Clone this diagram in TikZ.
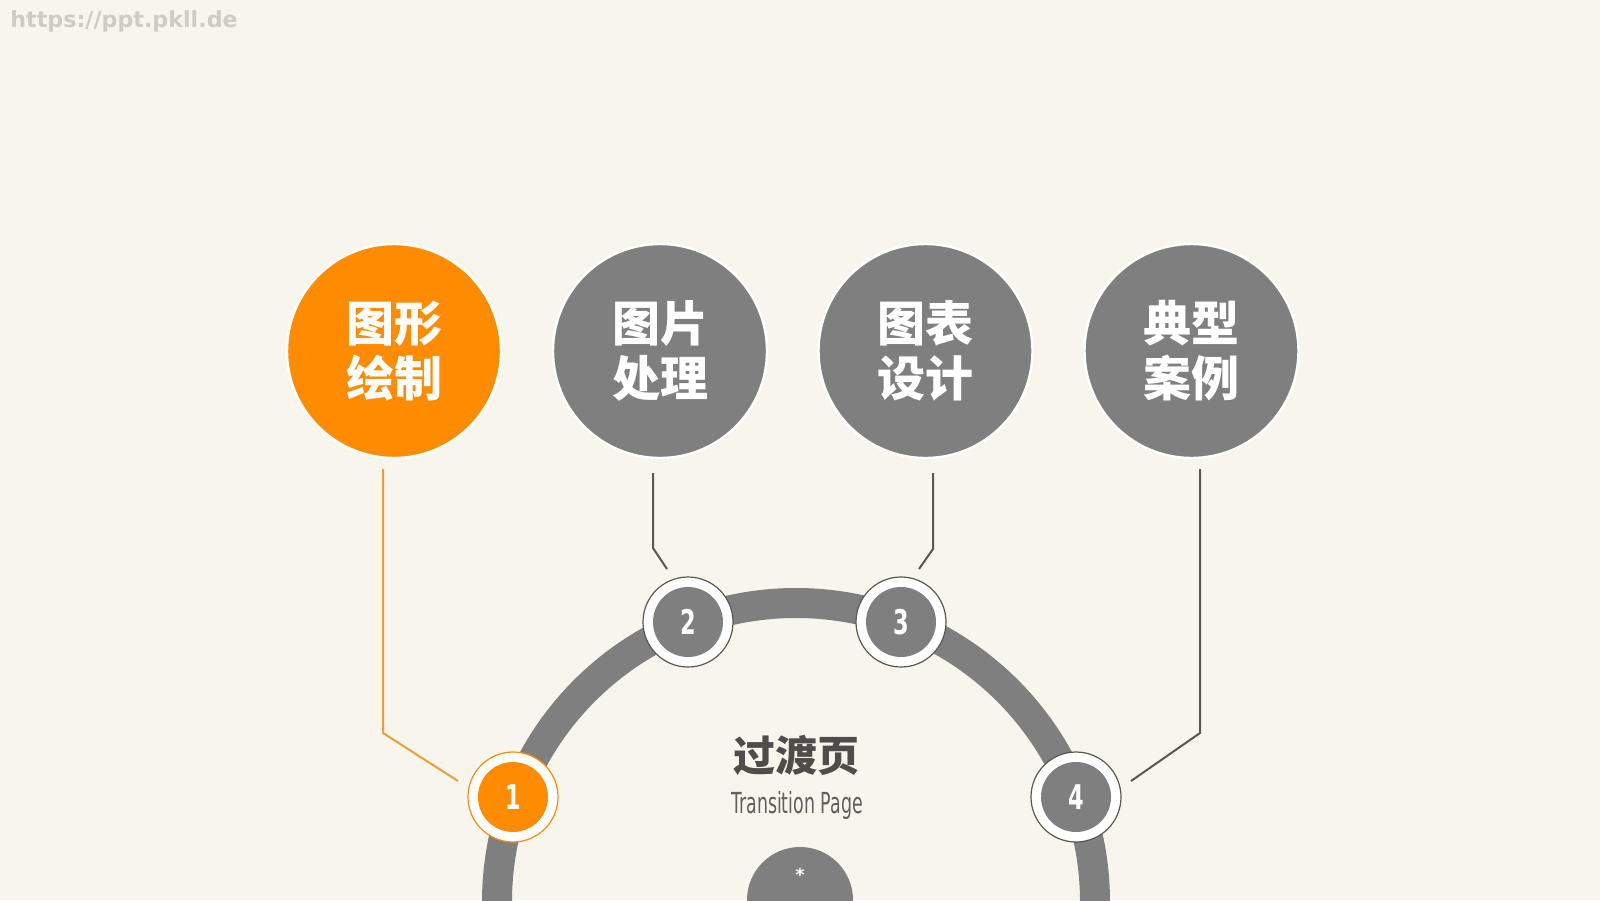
\documentclass[tikz,border=0pt]{standalone}
\usepackage{fontspec}
\usepackage{graphicx}
\setmainfont{DejaVu Sans}
\newfontfamily\cjk{Noto Sans CJK SC}
\newfontfamily\numfont{DejaVu Sans}
\definecolor{bgcol}{HTML}{F8F6EC}
\definecolor{orangec}{HTML}{FF8C00}
\definecolor{grayc}{HTML}{807F80}
\definecolor{lineor}{HTML}{EC9E38}
\definecolor{linegr}{HTML}{5C574E}
\definecolor{textdk}{HTML}{4E4D4B}
\definecolor{wmcol}{HTML}{CDCDC5}
\begin{document}
\begin{tikzpicture}[x=0.5pt,y=-0.5pt,
  big/.style={circle, fill=#1, draw=white, line width=1.2pt, minimum size=107pt,
    inner sep=0pt, text=white, align=center,
    font=\cjk\bfseries\fontsize{24}{27.5}\selectfont},
  ring/.style={circle, fill=white, draw=#1, line width=0.6pt, minimum size=45pt, inner sep=0pt},
  dotc/.style={circle, fill=#1, minimum size=35pt, inner sep=0pt, text=white,
    font=\numfont\bfseries\fontsize{17}{17}\selectfont},
  link/.style={draw=#1, line width=1pt},
]
\useasboundingbox (0,0) rectangle (1600,900);
\clip (0,0) rectangle (1600,900);
\fill[bgcol] (0,0) rectangle (1600,900);

% watermark
\node[anchor=west, inner sep=0pt, text=wmcol, font=\bfseries\fontsize{11.1}{11.1}\selectfont] (wm) at (10,21) {https://ppt.pkll.de};

% big arc
\coordinate (ctr) at (796,902);
\draw[grayc, line width=15pt] (ctr) circle[radius=149.5pt];

% bottom circle
\node[circle, fill=grayc, minimum size=53pt, inner sep=0pt] (bot) at (800,900) {};
\node[text=white, font=\bfseries\fontsize{9}{9}\selectfont, inner sep=0pt] (star) at (800,875) {*};

% big circles
\node[big=orangec] (b1) at (394,351) {图形\\绘制};
\node[big=grayc] (b2) at (660,351) {图片\\处理};
\node[big=grayc] (b3) at (925.5,351) {图表\\设计};
\node[big=grayc] (b4) at (1191.5,351) {典型\\案例};

% small circles
\node[ring=orangec] (r1) at (513,797) {};
\node[dotc=orangec] (n1) at (r1) {\scalebox{0.66}[1]{1}};
\node[ring=linegr] (r2) at (688,622) {};
\node[dotc=grayc] (n2) at (r2) {\scalebox{0.66}[1]{2}};
\node[ring=linegr] (r3) at (901,622) {};
\node[dotc=grayc] (n3) at (r3) {\scalebox{0.66}[1]{3}};
\node[ring=linegr] (r4) at (1076,797) {};
\node[dotc=grayc] (n4) at (r4) {\scalebox{0.66}[1]{4}};

% center text
\node[text=textdk, font=\cjk\bfseries\fontsize{21}{21}\selectfont] (title) at (796,755) {过渡页};
\node[text=textdk!90, font=\fontsize{14.5}{14.5}\selectfont] (sub) at (797,805) {\scalebox{0.6}[1]{Transition Page}};

% connectors
\coordinate (l1a) at (383,469); \coordinate (l1b) at (383,733); \coordinate (l1c) at (458,781);
\coordinate (l2a) at (653,473); \coordinate (l2b) at (653,548); \coordinate (l2c) at (667,569);
\coordinate (l3a) at (933,473); \coordinate (l3b) at (933,549); \coordinate (l3c) at (919,569);
\coordinate (l4a) at (1200,469); \coordinate (l4b) at (1200,733); \coordinate (l4c) at (1131,781);
\draw[link=lineor] (l1a) -- (l1b) -- (l1c);
\draw[link=linegr] (l2a) -- (l2b) -- (l2c);
\draw[link=linegr] (l3a) -- (l3b) -- (l3c);
\draw[link=linegr] (l4a) -- (l4b) -- (l4c);
\end{tikzpicture}
\end{document}
